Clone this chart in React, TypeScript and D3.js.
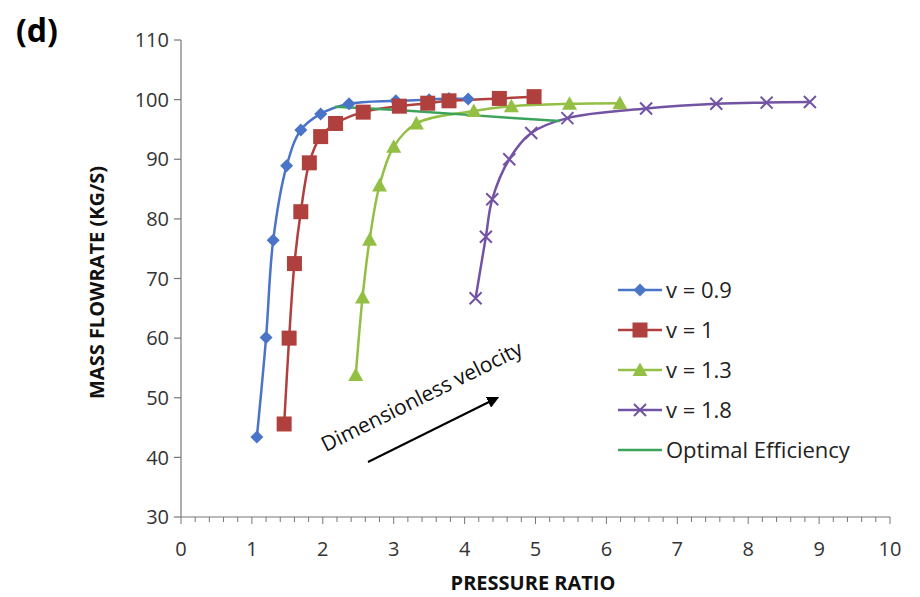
import React from "react";
import * as d3 from "d3";

type Pt = [number, number];

const v09: Pt[] = [
  [1.07, 43.4], [1.2, 60.1], [1.3, 76.4], [1.49, 88.9], [1.69, 94.9],
  [1.97, 97.6], [2.37, 99.3], [3.03, 99.8], [3.5, 100.0], [3.78, 100.2], [4.05, 100.1],
];
const v10: Pt[] = [
  [1.455, 45.6], [1.525, 60.0], [1.6, 72.5], [1.69, 81.2], [1.81, 89.4],
  [1.97, 93.8], [2.18, 96.0], [2.57, 97.9], [3.08, 98.9], [3.48, 99.4],
  [3.78, 99.8], [4.49, 100.2], [4.98, 100.5],
];
const v13: Pt[] = [
  [2.465, 53.8], [2.56, 66.8], [2.66, 76.5], [2.8, 85.6], [3.0, 92.1],
  [3.32, 96.0], [4.13, 98.1], [4.66, 98.9], [5.48, 99.3], [6.19, 99.4],
];
const v18: Pt[] = [
  [4.155, 66.7], [4.3, 77.0], [4.39, 83.3], [4.63, 90.0], [4.94, 94.4],
  [5.45, 96.9], [6.56, 98.5], [7.55, 99.3], [8.26, 99.5], [8.87, 99.6],
];
const optimal: Pt[] = [[2.17, 98.8], [3.1, 98.2], [4.1, 97.4], [5.34, 96.4]];

const xTicks = [0, 1, 2, 3, 4, 5, 6, 7, 8, 9, 10];
const yTicks = [30, 40, 50, 60, 70, 80, 90, 100, 110];
const legendLabels = ["v = 0.9", "v = 1", "v = 1.3", "v = 1.8", "Optimal Efficiency"];

const W = 920, H = 597;
const FONT = "'Open Sans', 'Liberation Sans', sans-serif";

const x = d3.scaleLinear().domain([0, 10]).range([181, 890]);
const y = d3.scaleLinear().domain([30, 110]).range([517, 40]);

const line = d3
  .line<Pt>()
  .x((d) => x(d[0]))
  .y((d) => y(d[1]))
  .curve(d3.curveCatmullRom.alpha(0.5));

const colors = {
  blue: "#4A74C8",
  red: "#B0403D",
  green: "#93BF44",
  purple: "#7353A3",
  opt: "#3BA35A",
};

function Diamond({ cx, cy, c }: { cx: number; cy: number; c: string }) {
  const r = 6.5;
  return <path d={`M${cx},${cy - r}L${cx + r},${cy}L${cx},${cy + r}L${cx - r},${cy}Z`} fill={c} />;
}
function Square({ cx, cy, c }: { cx: number; cy: number; c: string }) {
  const s = 15;
  return <rect x={cx - s / 2} y={cy - s / 2} width={s} height={s} fill={c} />;
}
function Tri({ cx, cy, c }: { cx: number; cy: number; c: string }) {
  const r = 7.5;
  return <path d={`M${cx},${cy - r}L${cx + r},${cy + r * 0.8}L${cx - r},${cy + r * 0.8}Z`} fill={c} />;
}
function Cross({ cx, cy, c }: { cx: number; cy: number; c: string }) {
  const r = 6;
  return (
    <path d={`M${cx - r},${cy - r}L${cx + r},${cy + r}M${cx - r},${cy + r}L${cx + r},${cy - r}`} stroke={c} strokeWidth={2} />
  );
}

const series = [
  { data: v09, color: colors.blue, M: Diamond },
  { data: v10, color: colors.red, M: Square },
  { data: v13, color: colors.green, M: Tri },
  { data: v18, color: colors.purple, M: Cross },
];

export default function App() {
  const minor = d3.range(0, 10.0001, 0.2);
  const legendY = [290, 330, 370, 410, 450];
  const ang = (Math.atan2(398 - 462, 497 - 368) * 180) / Math.PI;
  return (
    <svg width={W} height={H} style={{ display: "block", position: "absolute", left: 0, top: 0, background: "#fff" }}>
      <defs>
        <marker id="ah" viewBox="0 0 10 10" refX="8" refY="5" markerWidth="6" markerHeight="6" orient="auto">
          <path d="M0,0L10,5L0,10Z" fill="#000" />
        </marker>
      </defs>
      <text x={16} y={42} fontFamily={FONT} fontWeight="bold" fontSize={32} fill="#000">(d)</text>

      {/* y axis */}
      <line x1={x(0)} x2={x(0)} y1={y(110)} y2={y(30)} stroke="#777" strokeWidth={1.2} />
      {yTicks.map((t) => (
        <g key={t}>
          <line x1={x(0) - 7} x2={x(0)} y1={y(t)} y2={y(t)} stroke="#777" strokeWidth={1.2} />
          <text x={x(0) - 12} y={y(t)} dy="0.36em" textAnchor="end" fontFamily={FONT} fontSize={20} fill="#333">{t}</text>
        </g>
      ))}
      {/* x axis */}
      <line x1={x(0)} x2={x(10)} y1={y(30)} y2={y(30)} stroke="#777" strokeWidth={1.2} />
      {minor.map((t, i) => (
        <line key={i} x1={x(t)} x2={x(t)} y1={y(30)} y2={y(30) + (i % 5 === 0 ? 7 : 5)} stroke="#777" strokeWidth={1} />
      ))}
      {xTicks.map((t) => (
        <text key={t} x={x(t)} y={y(30) + 39} textAnchor="middle" fontFamily={FONT} fontSize={20} fill="#333">{t}</text>
      ))}
      <text x={533} y={590} textAnchor="middle" fontFamily={FONT} fontWeight="bold" fontSize={20} fill="#111">PRESSURE RATIO</text>
      <text transform={`translate(104,${(y(30) + y(110)) / 2 + 4}) rotate(-90)`} textAnchor="middle" fontFamily={FONT} fontWeight="bold" fontSize={20} fill="#111">MASS FLOWRATE (KG/S)</text>

      {/* series */}
      {series.map((s, i) => (
        <path key={i} d={line(s.data) || ""} fill="none" stroke={s.color} strokeWidth={2.5} />
      ))}
      <path d={line(optimal) || ""} fill="none" stroke={colors.opt} strokeWidth={2.5} />
      {series.map((s, i) => (
        <g key={"m" + i}>
          {s.data.map((d, j) => (
            <s.M key={j} cx={x(d[0])} cy={y(d[1])} c={s.color} />
          ))}
        </g>
      ))}

      {/* annotation */}
      <line x1={368} y1={462} x2={497} y2={398} stroke="#000" strokeWidth={2} markerEnd="url(#ah)" />
      <text transform={`translate(425,403) rotate(${ang})`} textAnchor="middle" fontFamily={FONT} fontSize={21} fill="#111">Dimensionless velocity</text>

      {/* legend */}
      {legendLabels.map((l, i) => {
        const c = i < 4 ? series[i].color : colors.opt;
        const M = i < 4 ? series[i].M : null;
        return (
          <g key={l}>
            <line x1={618} x2={662} y1={legendY[i]} y2={legendY[i]} stroke={c} strokeWidth={2.5} />
            {M && <M cx={640} cy={legendY[i]} c={c} />}
            <text x={666} y={legendY[i]} dy="0.36em" fontFamily={FONT} fontSize={22} fill="#222">{l}</text>
          </g>
        );
      })}
    </svg>
  );
}
